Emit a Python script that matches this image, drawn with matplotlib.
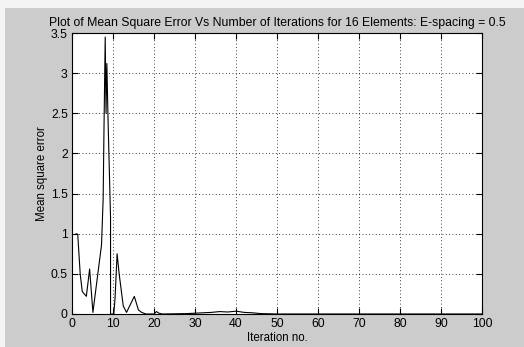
import matplotlib
matplotlib.use("Agg")
import matplotlib.pyplot as plt
from matplotlib.patches import Rectangle

# Data
iterations = [1.0, 1.4, 2.0, 2.5, 3.5, 4.3, 5.1, 7.2, 7.6, 7.8, 8.1, 8.3, 8.5, 8.8,
              9.4, 9.4, 10.2, 10.5, 11.0, 11.5, 12.5, 13.3, 15.2, 16.2, 17.0, 18.0,
              20.0, 20.6, 21.2, 22.0, 28.0, 30.0, 32.0, 34.0, 36.0, 38.0, 40.0,
              42.0, 44.0, 46.0, 50.0, 60.0, 70.0, 80.0, 90.0, 100.0]
mse = [1.0, 0.99, 0.5, 0.28, 0.22, 0.56, 0.02, 0.86, 1.44, 2.3, 3.45, 2.5, 3.12, 2.4,
       1.2, 0.0, 0.0, 0.2, 0.75, 0.5, 0.1, 0.02, 0.22, 0.05, 0.02, 0.0,
       0.0, 0.03, 0.01, 0.0, 0.005, 0.01, 0.015, 0.02, 0.03, 0.025, 0.035,
       0.02, 0.015, 0.005, 0.0, 0.0, 0.0, 0.0, 0.0, 0.0]

xticks = [0, 10, 20, 30, 40, 50, 60, 70, 80, 90, 100]
yticks = [0, 0.5, 1, 1.5, 2, 2.5, 3, 3.5]
ytick_labels = ["0", "0.5", "1", "1.5", "2", "2.5", "3", "3.5"]

plt.rcParams['font.family'] = ['Liberation Sans', 'DejaVu Sans']

W, H = 524, 347
fig = plt.figure(figsize=(W / 100, H / 100), dpi=100)
fig.patch.set_facecolor('#f4f4f4')
bg = Rectangle((5 / W, 0), 1 - 5 / W, (H - 8) / H,
               transform=fig.transFigure, facecolor='#cccccc',
               edgecolor='none', zorder=-10)
fig.patches.append(bg)

ax = fig.add_axes([72 / W, (H - 314) / H, (482 - 72) / W, (314 - 33) / H])
ax.set_zorder(5)
ax.set_facecolor('white')
ax.plot(iterations, mse, color='black', linewidth=0.8)

ax.set_xlim(0, 100)
ax.set_ylim(0, 3.5)
ax.set_xticks(xticks)
ax.set_yticks(yticks)
ax.set_yticklabels(ytick_labels)
ax.grid(True, linestyle=(0, (1, 3)), color='black', linewidth=0.6)
ax.tick_params(direction='in', length=4, width=0.8, top=True, right=True,
               labelsize=8.8, colors='black', pad=3)
for s in ax.spines.values():
    s.set_linewidth(0.8)
    s.set_color('black')

ax.set_title("Plot of Mean Square Error Vs Number of Iterations for 16 Elements: E-spacing = 0.5",
             fontsize=8.8, pad=5)
ax.set_xlabel("Iteration no.", fontsize=8.3, labelpad=1)
ax.set_ylabel("Mean square error", fontsize=8.3, labelpad=2)

fig.savefig("out.png", dpi=100, facecolor=fig.get_facecolor())
